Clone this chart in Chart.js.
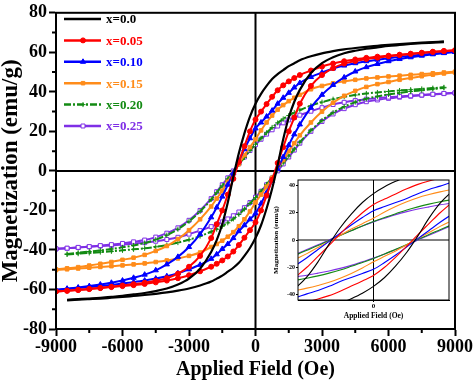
<!DOCTYPE html>
<html>
<head>
<meta charset="utf-8">
<script src="https://cdn.jsdelivr.net/npm/chart.js@4.4.0/dist/chart.umd.min.js"></script>
<style>
html,body{margin:0;padding:0;background:#fff;}
#wrap{position:relative;width:474px;height:385px;}
#main{position:absolute;left:0;top:0;}
#inset{position:absolute;left:270px;top:172px;}
</style>
</head>
<body>
<div id="wrap">
<canvas id="main" width="474" height="385"></canvas>
<canvas id="inset" width="186" height="152"></canvas>
</div>
<script>
// applied field (Oe), same grid for both branches
const field = [-9000,-8500,-8000,-7500,-7000,-6500,-6000,-5500,-5000,-4500,-4000,-3500,-3000,-2500,-2000,-1750,-1500,-1250,-1000,-750,-500,-250,0,250,500,750,1000,1250,1500,1750,2000,2500,3000,3500,4000,4500,5000,5500,6000,6500,7000,7500,8000,8500,9000];

// magnetization (emu/g): upper = descending sweep, lower = ascending sweep
const upper00 = [null,-65.2,-64.9,-64.6,-64.2,-63.7,-63.2,-62.5,-61.8,-60.8,-59.5,-57.5,-54.5,-49.5,-41,-35,-27,-16,-3,9,19,27.5,34,39,43,46.5,49,51,53,54.5,56,58,59.5,60.6,61.5,62.2,62.8,63.3,63.8,64.2,64.6,64.9,65.2,65.5,null];
const lower00 = [null,-65.5,-65.2,-64.9,-64.6,-64.2,-63.8,-63.3,-62.8,-62.2,-61.5,-60.6,-59.5,-58,-56,-54.5,-53,-51,-49,-46.5,-43,-39,-34,-27.5,-19,-9,3,16,27,35,41,49.5,54.5,57.5,59.5,60.8,61.8,62.5,63.2,63.7,64.2,64.6,64.9,65.2,null];
const upper05 = [-61,-60.6,-60.2,-59.7,-59.2,-58.6,-58,-57.3,-56.6,-55.6,-54.3,-52,-48.5,-43,-34,-27,-20,-12,-4,4.5,12.5,20,26,30,33.8,37.5,40.8,43.3,45.3,47,48.5,50.8,52.8,54.3,55.5,56.4,57.2,57.8,58.3,58.8,59.3,59.8,60.3,60.7,61];
const lower05 = [-61,-60.7,-60.3,-59.8,-59.3,-58.8,-58.3,-57.8,-57.2,-56.4,-55.5,-54.3,-52.8,-50.8,-48.5,-47,-45.3,-43.3,-40.8,-37.5,-33.8,-30,-26,-20,-12.5,-4.5,4,12,20,27,34,43,48.5,52,54.3,55.6,56.6,57.3,58,58.6,59.2,59.7,60.2,60.6,61];
const upper10 = [-60.2,-59.6,-59,-58.3,-57.5,-56.6,-55.5,-54.1,-52.5,-50.3,-47.3,-43.5,-38.5,-32,-23.5,-18.5,-13,-7,-1,5,11,16.5,21.5,24.5,27.5,30.5,34,37,39.5,42.2,44.5,47.5,49.8,51.8,53.3,54.5,55.5,56.3,57,57.7,58.3,58.8,59.3,59.8,60.3];
const lower10 = [-60.3,-59.8,-59.3,-58.8,-58.3,-57.7,-57,-56.3,-55.5,-54.5,-53.3,-51.8,-49.8,-47.5,-44.5,-42.2,-39.5,-37,-34,-30.5,-27.5,-24.5,-21.5,-16.5,-11,-5,1,7,13,18.5,23.5,32,38.5,43.5,47.3,50.3,52.5,54.1,55.5,56.6,57.5,58.3,59,59.6,60.2];
const upper15 = [-49.8,-49.3,-48.7,-47.9,-47,-46.1,-45,-43.9,-42.5,-40.5,-38,-34.5,-30,-24.5,-18,-14,-10,-5.5,-1,3.5,8,12,16,20.5,24.5,28,31,33.3,35.3,37,38.5,41.3,43,44.3,45.3,46.1,46.8,47.3,47.8,48.2,48.6,49,49.4,49.8,50.2];
const lower15 = [-50.2,-49.8,-49.4,-49,-48.6,-48.2,-47.8,-47.3,-46.8,-46.1,-45.3,-44.3,-43,-41.3,-38.5,-37,-35.3,-33.3,-31,-28,-24.5,-20.5,-16,-12,-8,-3.5,1,5.5,10,14,18,24.5,30,34.5,38,40.5,42.5,43.9,45,46.1,47,47.9,48.7,49.3,49.8];
const upper20 = [null,-42,-41.4,-40.8,-40.2,-39.5,-38.7,-37.7,-36.5,-34.8,-32.5,-29.5,-25.5,-20.5,-14.5,-11,-7.5,-4,-0.3,3.3,6.8,10.3,13.5,16.5,19.3,22,24.3,26.3,28,29.5,30.8,33,34.8,36.3,37.5,38.4,39.2,39.7,40.2,40.7,41.1,41.5,41.9,42.3,null];
const lower20 = [null,-42.3,-41.9,-41.5,-41.1,-40.7,-40.2,-39.7,-39.2,-38.4,-37.5,-36.3,-34.8,-33,-30.8,-29.5,-28,-26.3,-24.3,-22,-19.3,-16.5,-13.5,-10.3,-6.8,-3.3,0.3,4,7.5,11,14.5,20.5,25.5,29.5,32.5,34.8,36.5,37.7,38.7,39.5,40.2,40.8,41.4,42,null];
const upper25 = [-39.4,-39.1,-38.7,-38.3,-37.8,-37.3,-36.7,-35.9,-35,-33.5,-31.5,-28.8,-25,-20,-14,-10.5,-7,-3.5,0,3.6,7,10.3,13.3,16,18.6,20.8,22.7,24.3,25.8,27,28.2,30.2,32,33.6,34.7,35.6,36.3,36.8,37.3,37.7,38,38.4,38.8,39.2,39.5];
const lower25 = [-39.5,-39.2,-38.8,-38.4,-38,-37.7,-37.3,-36.8,-36.3,-35.6,-34.7,-33.6,-32,-30.2,-28.2,-27,-25.8,-24.3,-22.7,-20.8,-18.6,-16,-13.3,-10.3,-7,-3.6,0,3.5,7,10.5,14,20,25,28.8,31.5,33.5,35,35.9,36.7,37.3,37.8,38.3,38.7,39.1,39.4];

const labels = ['x=0.0','x=0.05','x=0.10','x=0.15','x=0.20','x=0.25'];
const upperBranches = [upper00, upper05, upper10, upper15, upper20, upper25];
const lowerBranches = [lower00, lower05, lower10, lower15, lower20, lower25];

const xTicks = [-9000,-6000,-3000,0,3000,6000,9000];
const yTicks = [-80,-60,-40,-20,0,20,40,60,80];
const xMinor = [-7500,-4500,-1500,1500,4500,7500];
const yMinor = [-70,-50,-30,-10,10,30,50,70];
const insetXTicks = [0];
const insetYTicks = [-40,-20,0,20,40];

const looks = [
  {color:'#000000', marker:false, radius:0, fill:'#000000', width:2.2, dash:[]},
  {color:'#ff0000', marker:'circle', radius:2.5, fill:'#ff0000', width:2, dash:[]},
  {color:'#0000ff', marker:'triangle', radius:3, fill:'#0000ff', width:2, dash:[]},
  {color:'#ff8c1a', marker:'rect', radius:2.5, fill:'#ff8c1a', width:2, dash:[]},
  {color:'#138a13', marker:'cross', radius:2.5, fill:'#138a13', width:2, dash:[7,2,2,2]},
  {color:'#7f2fe6', marker:'rect', radius:2.8, fill:'#ffffff', width:2, dash:[]}
];

const serif = "'Liberation Serif', 'Times New Roman', serif";

function branchPoints(arr) {
  return field.map((h, i) => ({x: h, y: arr[i]})).filter(p => p.y !== null);
}

function axisLines(width, minor) {
  return {
    id: 'axisLines',
    beforeDatasetsDraw(chart) {
      const {ctx, chartArea: a, scales: {x, y}} = chart;
      ctx.save();
      ctx.fillStyle = '#fff';
      ctx.fillRect(a.left, a.top, a.width, a.height);
      ctx.strokeStyle = '#000';
      ctx.lineWidth = width;
      ctx.beginPath();
      const x0 = x.getPixelForValue(0), y0 = y.getPixelForValue(0);
      ctx.moveTo(x0, a.top); ctx.lineTo(x0, a.bottom);
      ctx.moveTo(a.left, y0); ctx.lineTo(a.right, y0);
      ctx.stroke();
      ctx.restore();
    },
    afterDraw(chart) {
      const {ctx, chartArea: a, scales: {x, y}} = chart;
      ctx.save();
      ctx.strokeStyle = '#000';
      ctx.lineWidth = width;
      ctx.strokeRect(a.left, a.top, a.width, a.height);
      if (minor) {
        ctx.beginPath();
        xMinor.forEach(v => { const px = x.getPixelForValue(v); ctx.moveTo(px, a.bottom); ctx.lineTo(px, a.bottom + 4); });
        yMinor.forEach(v => { const py = y.getPixelForValue(v); ctx.moveTo(a.left, py); ctx.lineTo(a.left - 4, py); });
        ctx.stroke();
      }
      ctx.restore();
    }
  };
}

const legendInside = {
  id: 'legendInside',
  afterDraw(chart) {
    const ctx = chart.ctx;
    labels.forEach((lab, i) => {
      const s = looks[i];
      const y = 19 + i * 21.4;
      ctx.save();
      ctx.strokeStyle = s.color;
      ctx.lineWidth = 2.5;
      ctx.setLineDash(s.dash);
      ctx.beginPath(); ctx.moveTo(64, y); ctx.lineTo(101, y); ctx.stroke();
      ctx.setLineDash([]);
      if (s.marker) {
        ctx.fillStyle = s.fill;
        ctx.lineWidth = 1;
        Chart.helpers.drawPoint(ctx, {pointStyle: s.marker, radius: s.radius, rotation: 0, borderWidth: 1}, 83, y);
      }
      ctx.fillStyle = s.color;
      ctx.font = 'bold 13px ' + serif;
      ctx.textBaseline = 'middle';
      ctx.fillText(lab, 106, y + 1);
      ctx.restore();
    });
  }
};

const mainSets = [];
const insetSets = [];
looks.forEach((s, k) => {
  [upperBranches[k], lowerBranches[k]].forEach(arr => {
    mainSets.push({
      data: branchPoints(arr),
      showLine: true,
      borderColor: s.color,
      borderWidth: s.width,
      borderDash: s.dash,
      pointStyle: s.marker || 'circle',
      pointRadius: s.radius,
      pointBackgroundColor: s.fill,
      pointBorderColor: s.color,
      pointBorderWidth: 1,
      cubicInterpolationMode: 'monotone'
    });
    insetSets.push({
      data: branchPoints(arr),
      showLine: true,
      borderColor: s.color,
      borderWidth: 1.1,
      pointRadius: 0,
      cubicInterpolationMode: 'monotone'
    });
  });
});

const mainChart = new Chart(document.getElementById('main'), {
  type: 'scatter',
  data: {datasets: mainSets},
  options: {
    responsive: false,
    animation: false,
    devicePixelRatio: 1,
    layout: {padding: {left: 0, top: 7, right: 19, bottom: 0}},
    plugins: {legend: {display: false}, tooltip: {enabled: false}},
    scales: {
      x: {
        type: 'linear', min: -9000, max: 9000,
        afterBuildTicks: s => { s.ticks = xTicks.map(v => ({value: v})); },
        afterFit: s => { s.height = 56; },
        grid: {drawOnChartArea: false, tickLength: 7, tickColor: '#000', tickWidth: 2},
        border: {display: true, color: '#000', width: 2},
        ticks: {color: '#000', padding: 1, maxRotation: 0, autoSkip: false, callback: v => String(v),
                font: {family: serif, size: 18, weight: 'bold'}},
        title: {display: true, text: 'Applied Field (Oe)', color: '#000', padding: {top: 0, bottom: 3},
                font: {family: serif, size: 20, weight: 'bold'}}
      },
      y: {
        type: 'linear', min: -80, max: 80,
        afterBuildTicks: s => { s.ticks = yTicks.map(v => ({value: v})); },
        afterFit: s => { s.width = 56; },
        grid: {drawOnChartArea: false, tickLength: 7, tickColor: '#000', tickWidth: 2},
        border: {display: true, color: '#000', width: 2},
        ticks: {color: '#000', padding: 2, callback: v => String(v),
                font: {family: serif, size: 18, weight: 'bold'}},
        title: {display: true, text: 'Magnetization (emu/g)', color: '#000', padding: {top: 0, bottom: 0},
                font: {family: serif, size: 23, weight: 'bold', lineHeight: 1}}
      }
    }
  },
  plugins: [axisLines(2, true), legendInside]
});

const insetChart = new Chart(document.getElementById('inset'), {
  type: 'scatter',
  data: {datasets: insetSets},
  options: {
    responsive: false,
    animation: false,
    devicePixelRatio: 1,
    layout: {padding: {left: 0, top: 8, right: 7, bottom: 0}},
    plugins: {legend: {display: false}, tooltip: {enabled: false}},
    scales: {
      x: {
        type: 'linear', min: -1700, max: 1700,
        afterBuildTicks: s => { s.ticks = insetXTicks.map(v => ({value: v})); },
        afterFit: s => { s.height = 24; },
        grid: {drawOnChartArea: false, tickLength: 2, tickColor: '#000'},
        border: {display: true, color: '#000', width: 1},
        ticks: {color: '#000', padding: 0, maxRotation: 0, callback: v => String(v),
                font: {family: serif, size: 7, weight: 'bold'}},
        title: {display: true, text: 'Applied Field (Oe)', color: '#000', padding: {top: 0, bottom: 3},
                font: {family: serif, size: 7.5, weight: 'bold'}}
      },
      y: {
        type: 'linear', min: -44, max: 44,
        afterBuildTicks: s => { s.ticks = insetYTicks.map(v => ({value: v})); },
        afterFit: s => { s.width = 28; },
        grid: {drawOnChartArea: false, tickLength: 2, tickColor: '#000'},
        border: {display: true, color: '#000', width: 1},
        ticks: {color: '#000', padding: 1, callback: v => String(v),
                font: {family: serif, size: 6, weight: 'bold'}},
        title: {display: true, text: 'Magnetization (emu/g)', color: '#000', padding: {top: 2, bottom: 0},
                font: {family: serif, size: 7, weight: 'bold'}}
      }
    }
  },
  plugins: [axisLines(1, false)]
});
</script>
</body>
</html>
